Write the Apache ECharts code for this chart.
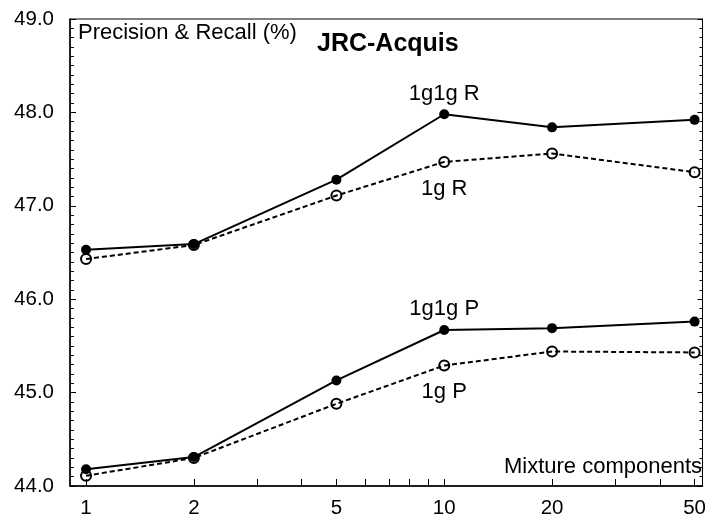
<!DOCTYPE html>
<html>
<head>
<meta charset="utf-8">
<script src="https://cdn.jsdelivr.net/npm/echarts@6/dist/echarts.min.js"></script>
<style>
  html, body { margin: 0; padding: 0; background: #fff; }
  #chart { width: 709px; height: 519px; }
</style>
</head>
<body>
<div id="chart"></div>
<script>
// mixture components (log x axis)
const components = [1, 2, 5, 10, 20, 50];
const xTickLabels = [1, 2, 5, 10, 20, 50];
const xTickMarks = [1, 2, 3, 4, 5, 6, 7, 8, 9, 10, 20, 30, 40, 50];

// precision & recall (%)
const r1g1g = [46.53, 46.59, 47.28, 47.98, 47.84, 47.92];
const r1g = [46.43, 46.58, 47.11, 47.47, 47.56, 47.36];
const p1g1g = [44.18, 44.31, 45.13, 45.67, 45.69, 45.76];
const p1g = [44.11, 44.30, 44.88, 45.29, 45.44, 45.43];

const FONT = '"Liberation Sans", Arial, sans-serif';

const chart = echarts.init(document.getElementById('chart'));

// label sits on the 10-component point
function buildData(values, name, dy) {
  return values.map((v, i) => {
    const item = { value: [components[i], v] };
    if (components[i] === 10) {
      item.label = {
        show: true,
        formatter: name,
        position: 'inside',
        offset: [0, dy],
        color: '#000',
        fontSize: 22,
        fontFamily: FONT
      };
    }
    return item;
  });
}

function makeSeries(name, values, filled, dy) {
  return {
    name: name,
    type: 'line',
    data: buildData(values, name, dy),
    symbol: 'circle',
    symbolSize: 10,
    showAllSymbol: true,
    z: filled ? 3 : 2,
    lineStyle: {
      color: '#000',
      width: 2,
      type: filled ? 'solid' : [5, 3]
    },
    itemStyle: filled
      ? { color: '#000', borderColor: '#000', borderWidth: 0 }
      : { color: 'rgba(0,0,0,0)', borderColor: '#000', borderWidth: 2 },
    emphasis: { disabled: true },
    animation: false
  };
}

const option = {
  animation: false,
  grid: {
    left: 70,
    right: 5,
    top: 19,
    bottom: 33,
    show: true,
    borderColor: '#000',
    borderWidth: 1
  },
  xAxis: {
    type: 'log',
    logBase: 10,
    min: 0.902,
    max: 52.6,
    axisLine: { show: true, onZero: false, lineStyle: { color: '#000', width: 1.5 } },
    axisTick: {
      show: true,
      inside: true,
      length: 7,
      customValues: xTickMarks,
      lineStyle: { color: '#000', width: 1 }
    },
    minorTick: { show: false },
    axisLabel: {
      customValues: xTickLabels,
      margin: 12,
      color: '#000',
      fontSize: 20.5,
      fontFamily: FONT
    },
    splitLine: { show: false }
  },
  yAxis: [
    {
      type: 'value',
      min: 44,
      max: 49,
      interval: 1,
      axisLine: { show: true, lineStyle: { color: '#000', width: 1.5 } },
      axisTick: { show: true, inside: true, length: 6, lineStyle: { color: '#000' } },
      minorTick: { show: true, splitNumber: 10, length: 4, lineStyle: { color: '#000' } },
      axisLabel: {
        margin: 16,
        color: '#000',
        fontSize: 20.5,
        fontFamily: FONT,
        formatter: v => v.toFixed(1)
      },
      splitLine: { show: false }
    },
    {
      type: 'value',
      position: 'right',
      min: 44,
      max: 49,
      interval: 1,
      axisLine: { show: true, lineStyle: { color: '#000', width: 1 } },
      axisTick: { show: true, inside: true, length: 5, lineStyle: { color: '#000' } },
      minorTick: { show: true, splitNumber: 10, length: 3, lineStyle: { color: '#000' } },
      axisLabel: { show: false },
      splitLine: { show: false }
    }
  ],
  graphic: [
    {
      type: 'text',
      left: 78,
      top: 22,
      style: { text: 'Precision & Recall (%)', fill: '#000', font: '22px ' + FONT }
    },
    {
      type: 'text',
      left: 317,
      top: 32,
      style: { text: 'JRC-Acquis', fill: '#000', font: 'bold 25px ' + FONT }
    },
    {
      type: 'text',
      right: 7,
      top: 456,
      style: { text: 'Mixture components', fill: '#000', font: '22px ' + FONT }
    }
  ],
  series: [
    makeSeries('1g R', r1g, false, 27),
    makeSeries('1g P', p1g, false, 26),
    makeSeries('1g1g R', r1g1g, true, -20),
    makeSeries('1g1g P', p1g1g, true, -21)
  ]
};

chart.setOption(option);
</script>
</body>
</html>
